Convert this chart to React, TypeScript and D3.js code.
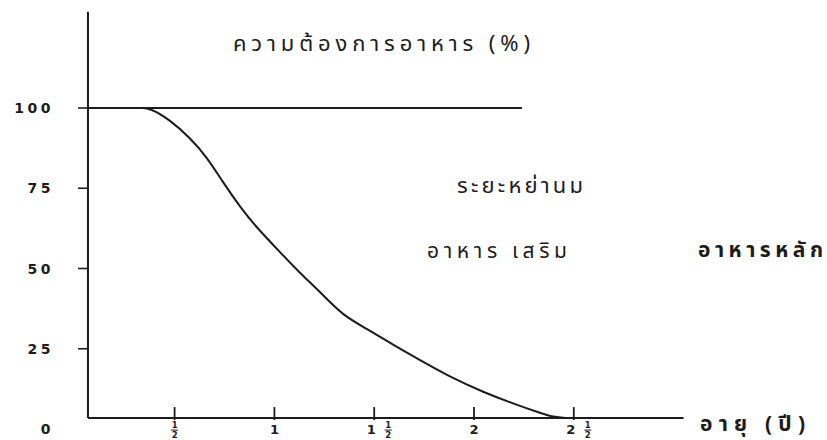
import React from "react";
import * as d3 from "d3";

// Food requirement (%) from breast milk vs age (years)
const AGE = [0.33, 0.377, 0.477, 0.577, 0.662, 0.742, 0.828, 0.913, 1.028, 1.128, 1.229, 1.344, 1.462, 1.594, 1.729, 1.88, 2.045, 2.215, 2.331, 2.396, 2.466, 2.5];
const NEED = [100, 100, 96.3, 90.7, 84.7, 76.9, 69.2, 62.6, 55.1, 48.6, 42.7, 35.3, 31.3, 26.2, 21.5, 16.2, 11.5, 7.5, 5.0, 3.7, 3.4, 3.4];

const Y_TICKS = [0, 25, 50, 75, 100];
const Y_TICK_LABELS = ["0", "25", "50", "75", "100"];
const X_TICKS = [0.5, 1, 1.5, 2, 2.5];
const X_WHOLE = ["", "1", "1", "2", "2"];
const X_HALF = [true, false, true, false, true];

const TITLE = "ความต้องการอาหาร (%)";
const X_TITLE = "อายุ (ปี)";
const LABEL_WEANING = "ระยะหย่านม";
const LABEL_SUPP = "อาหาร เสริม";
const LABEL_MAIN = "อาหารหลัก";

// axis extent in data units (hand-drawn axes)
const X_AXIS_START = 0.066;
const X_AXIS_END = 3.05;
const Y_AXIS_BASE = 3.4;
const Y_AXIS_TOP = 130;
const FULL_LINE_END = 2.24;

const W = 827;
const H = 440;
const INK = "#1c1c1c";
const THAI = "'Noto Sans Thai', 'Noto Sans Thai UI', Loma, Garuda, 'Tlwg Typist', Sarabun, 'Noto Sans', 'DejaVu Sans', sans-serif";
const NUM = "'DejaVu Sans', 'Liberation Sans', sans-serif";

export default function App() {
  const x = d3.scaleLinear().domain([0, 2.5]).range([74.8, 573.8]);
  const y = d3.scaleLinear().domain([0, 100]).range([429, 108]);

  const pts: [number, number][] = AGE.map((a, i) => [a, NEED[i]]);
  const line = d3
    .line<[number, number]>()
    .x((d) => x(d[0]))
    .y((d) => y(d[1]))
    .curve(d3.curveBasis);

  const base = y(Y_AXIS_BASE);
  const axisX = x(X_AXIS_START);

  const frac = (cx: number, top: number, key: string) => (
    <g key={key}>
      <text x={cx} y={top + 8} fontSize={8.5} fontWeight="bold" fontFamily={NUM} fill={INK} textAnchor="middle">1</text>
      <line x1={cx - 3.5} x2={cx + 3.5} y1={top + 10} y2={top + 10} stroke={INK} strokeWidth={1} />
      <text x={cx} y={top + 18} fontSize={8.5} fontWeight="bold" fontFamily={NUM} fill={INK} textAnchor="middle">2</text>
    </g>
  );

  return (
    <svg
      width={W}
      height={H}
      style={{ position: "absolute", left: 0, top: 0, background: "#fff" }}
    >
      <rect width={W} height={H} fill="#fff" />
      {/* axes */}
      <line x1={axisX} x2={axisX} y1={y(Y_AXIS_TOP)} y2={base} stroke={INK} strokeWidth={2} />
      <line x1={axisX} x2={x(X_AXIS_END)} y1={base} y2={base} stroke={INK} strokeWidth={2} />
      {/* 100% line */}
      <line x1={axisX} x2={x(FULL_LINE_END)} y1={y(100)} y2={y(100)} stroke={INK} strokeWidth={2} />

      {/* y ticks */}
      {Y_TICKS.map((t, i) => (
        <g key={"y" + t}>
          {t > 0 && (
            <line x1={axisX - 10} x2={axisX} y1={y(t)} y2={y(t)} stroke={INK} strokeWidth={1.6} />
          )}
          <text
            x={54}
            y={y(t)}
            dy="0.36em"
            textAnchor="end"
            fontFamily={NUM}
            fontWeight="bold"
            fontSize={14}
            letterSpacing={3.5}
            fill={INK}
          >
            {Y_TICK_LABELS[i]}
          </text>
        </g>
      ))}

      {/* x ticks */}
      {X_TICKS.map((t, i) => {
        const cx = x(t);
        const whole = X_WHOLE[i];
        return (
          <g key={"x" + t}>
            <line x1={cx} x2={cx} y1={base - 11} y2={base + 2} stroke={INK} strokeWidth={1.8} />
            {whole && (
              <text
                x={X_HALF[i] ? cx - 3 : cx}
                y={base + 16}
                textAnchor="middle"
                fontFamily={NUM}
                fontWeight="bold"
                fontSize={13}
                fill={INK}
              >
                {whole}
              </text>
            )}
            {X_HALF[i] && frac(whole ? cx + 14 : cx, base + 2, "f" + t)}
          </g>
        );
      })}

      {/* curve */}
      <path d={line(pts) || ""} fill="none" stroke={INK} strokeWidth={2} />

      {/* texts */}
      <text x={233} y={51} fontFamily={THAI} fontSize={22} fill={INK} textLength={297} lengthAdjust="spacing">
        {TITLE}
      </text>
      <text x={457} y={193} fontFamily={THAI} fontSize={22} fill={INK} textLength={126} lengthAdjust="spacing">
        {LABEL_WEANING}
      </text>
      <text x={427} y={258} fontFamily={THAI} fontSize={21} fill={INK} textLength={140} lengthAdjust="spacing">
        {LABEL_SUPP}
      </text>
      <text x={698} y={257} fontFamily={THAI} fontSize={21} fill={INK} fontWeight="bold" textLength={125} lengthAdjust="spacing">
        {LABEL_MAIN}
      </text>
      <text x={700} y={431} fontFamily={THAI} fontSize={21} fill={INK} fontWeight="bold" textLength={105} lengthAdjust="spacing">
        {X_TITLE}
      </text>
    </svg>
  );
}
